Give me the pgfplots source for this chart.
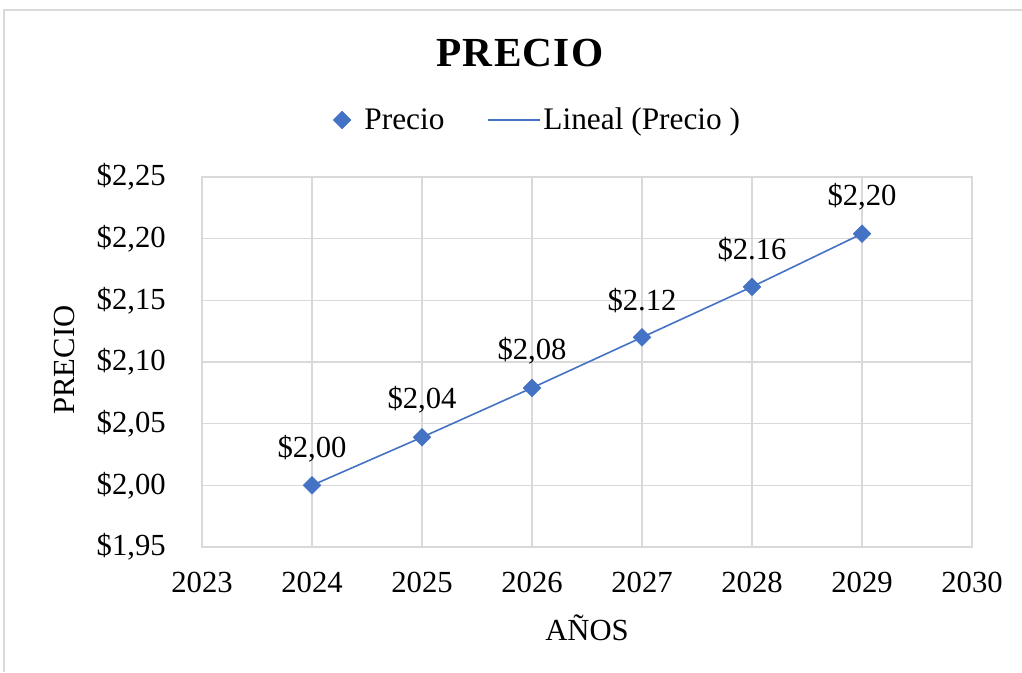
\documentclass[border=0pt]{standalone}
\usepackage{pgfplots}
\usepackage{pgfplotstable}
\pgfplotsset{compat=1.18}
\usepackage{fontspec}
\setmainfont{Liberation Serif}
\newfontfamily\titlefont[LetterSpace=3]{Liberation Serif}
\definecolor{exblue}{HTML}{4472C4}
\definecolor{exgrid}{HTML}{D9D9D9}
\pgfplotsset{
  trendleg/.style={legend image code/.code={\draw[##1] (0pt,0pt) -- (39pt,0pt);}},
  markleg/.style={legend image code/.code={\node[inner sep=0pt, minimum size=0pt, draw=none] at (-6pt,0pt) {}; \node[inner sep=0pt, minimum size=0pt, draw=none] at (14.5pt,0pt) {}; \draw[##1] plot coordinates {(0pt,0pt)};}}
}
\pgfplotstableread{
x y lab
2024 2.000 {\$2,00}
2025 2.039 {\$2,04}
2026 2.079 {\$2,08}
2027 2.120 {\$2.12}
2028 2.161 {\$2.16}
2029 2.204 {\$2,20}
}\datatable
\begin{document}
\begin{tikzpicture}
\useasboundingbox (0,0) rectangle (766.5pt,-504pt);
\draw[exgrid, line width=0.9pt] (3pt,-504pt) -- (3pt,-7.5pt) -- (766.5pt,-7.5pt);
\begin{axis}[
  at={(151.5pt,-410.25pt)}, anchor=south west,
  scale only axis, width=577.5pt, height=277.5pt,
  xmin=2023, xmax=2030, ymin=1.95, ymax=2.25,
  clip=false,
  xtick={2023,2024,2025,2026,2027,2028,2029,2030},
  xticklabels={2023,2024,2025,2026,2027,2028,2029,2030},
  ytick={1.95,2.00,2.05,2.10,2.15,2.20,2.25},
  yticklabels={{\$1,95},{\$2,00},{\$2,05},{\$2,10},{\$2,15},{\$2,20},{\$2,25}},
  grid=major,
  major grid style={exgrid, line width=1pt},
  axis line style={exgrid, line width=1pt},
  major tick length=0pt,
  tick style={draw=none},
  tick label style={font=\fontsize{23}{27}\selectfont, text=black},
  xticklabel style={anchor=north, inner sep=0pt, yshift=-18.75pt},
  yticklabel style={anchor=east, inner sep=0pt, xshift=-27pt},
  title={PRECIO},
  title style={at={(0.413,1.313)}, anchor=center, font=\titlefont\fontsize{31}{36}\selectfont\bfseries},
  xlabel={AÑOS},
  xlabel style={at={(0.5,-0.219)}, anchor=center, font=\fontsize{23}{27}\selectfont},
  ylabel={PRECIO},
  ylabel style={at={(-0.178,0.505)}, anchor=center, font=\fontsize{23}{27}\selectfont},
  legend style={at={(0.4364,1.154)}, anchor=center, draw=none, fill=none,
    legend columns=2, font=\fontsize{23.5}{27}\selectfont,
    /tikz/every even column/.append style={column sep=30pt}},
  legend cell align=left,
]
\addplot[only marks, mark=square*, mark size=4.7pt, mark options={rotate=45, fill=exblue, draw=exblue},
  markleg,
  nodes near coords, point meta=explicit symbolic,
  nodes near coords style={font=\fontsize{23}{27}\selectfont, anchor=center, yshift=27.75pt, text=black}]
  table[x=x, y=y, meta=lab] {\datatable};
\addlegendentry{Precio}
\addplot[exblue, line width=1.2pt, no marks, trendleg]
  table[x=x, y=y] {\datatable};
\addlegendentry{Lineal (Precio )}
\end{axis}
\end{tikzpicture}
\end{document}
